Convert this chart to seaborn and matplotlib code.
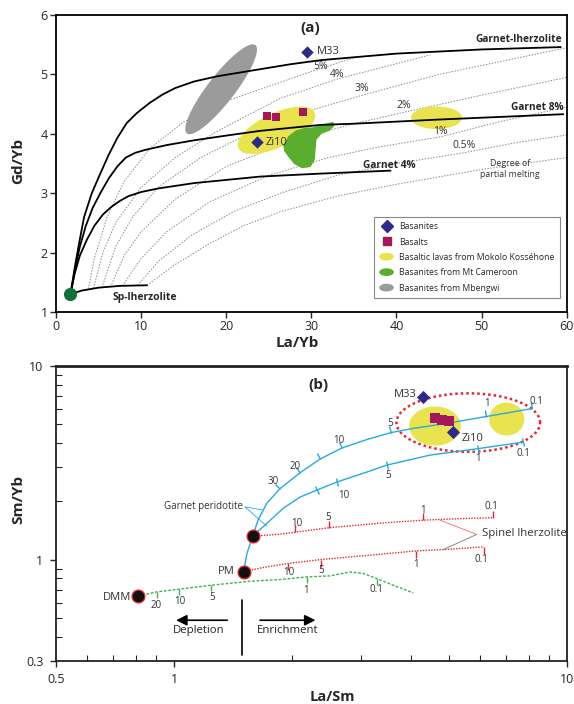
import numpy as np
import pandas as pd
import seaborn as sns
import matplotlib.pyplot as plt
import matplotlib.patches as mpatches
from matplotlib.lines import Line2D
from matplotlib.legend_handler import HandlerPatch
from matplotlib.markers import MarkerStyle
from matplotlib.transforms import Affine2D
from matplotlib.ticker import FixedLocator, NullFormatter

# ---------------- panel (a) data : La/Yb vs Gd/Yb ----------------
# melting curves (solid black)
gl_x = [1.7, 2.2, 2.7, 3.3, 4.2, 5.2, 6.2, 7.2, 8.3, 9.5, 11, 12.5, 14, 16.2, 19, 22.4, 27.5, 31.1, 40, 50, 59.3]
gl_y = [1.3, 1.75, 2.15, 2.6, 3.0, 3.33, 3.65, 3.93, 4.18, 4.35, 4.52, 4.66, 4.77, 4.88, 4.97, 5.05, 5.17, 5.24, 5.35, 5.42, 5.46]
g8_x = [1.7, 2.2, 2.8, 3.5, 4.3, 5.2, 6.2, 7.2, 8.2, 9.3, 10.5, 13, 16.2, 20, 24, 31.1, 35, 45, 59.6]
g8_y = [1.3, 1.7, 2.1, 2.45, 2.75, 3.0, 3.25, 3.45, 3.6, 3.68, 3.73, 3.81, 3.89, 3.97, 4.05, 4.15, 4.17, 4.24, 4.33]
g4_x = [1.7, 2.2, 2.8, 3.6, 4.5, 5.5, 6.5, 7.5, 8.5, 10, 12, 16.2, 24, 31.1, 39.3]
g4_y = [1.3, 1.65, 1.95, 2.21, 2.45, 2.64, 2.77, 2.87, 2.95, 3.02, 3.08, 3.17, 3.28, 3.33, 3.38]
sp_x = [1.7, 3, 5, 7.5, 10.7]
sp_y = [1.3, 1.36, 1.41, 1.44, 1.45]
source_a = (1.7, 1.3)

# degree of partial melting (grey dotted)
melt_curves = {
    '5%':   ([3.8, 4.5, 6, 8, 11, 15, 20, 25, 30, 35.2],
             [1.39, 1.9, 2.6, 3.2, 3.75, 4.2, 4.55, 4.8, 5.05, 5.29]),
    '4%':   ([4.4, 5.5, 7, 10, 14, 19, 26.4, 33, 44],
             [1.40, 2.0, 2.5, 3.1, 3.6, 4.05, 4.6, 4.92, 5.33]),
    '3%':   ([5.4, 7, 9, 12, 17, 24, 30, 36, 45, 60],
             [1.41, 2.1, 2.6, 3.1, 3.6, 4.1, 4.4, 4.65, 5.0, 5.45]),
    '2%':   ([6.4, 8, 10, 14, 20, 28, 35, 40.8, 50, 60],
             [1.42, 1.95, 2.35, 2.9, 3.45, 3.9, 4.17, 4.36, 4.65, 4.95]),
    '1%':   ([7.8, 10, 13, 18, 25, 32, 38, 45.2, 52, 60],
             [1.44, 1.9, 2.35, 2.85, 3.3, 3.6, 3.78, 3.95, 4.2, 4.45]),
    '0.5%': ([9.6, 12, 16, 21, 26.4, 33, 40, 47.9, 54, 60],
             [1.45, 1.85, 2.3, 2.7, 3.0, 3.3, 3.5, 3.68, 3.85, 3.98]),
    'low':  ([10.7, 14, 18, 22, 26.4, 33, 40, 50, 60],
             [1.45, 1.8, 2.15, 2.45, 2.69, 2.95, 3.15, 3.4, 3.6]),
}
melt_labels = ['5%', '4%', '3%', '2%', '1%', '0.5%']
melt_label_x = [31.06, 33.0, 35.96, 40.86, 45.18, 47.92]
melt_label_y = [5.125, 4.99, 4.77, 4.48, 4.035, 3.795]

# samples
basanite_a = pd.DataFrame({'x': [29.5, 23.6], 'y': [5.38, 3.87], 'name': ['M33', 'Zi10']})
basalt_a = pd.DataFrame({'x': [24.8, 25.9, 29.0], 'y': [4.30, 4.28, 4.36]})

# fields: centre, major half axis vector, minor half axis vector
mbengwi = dict(c=(19.4, 4.75), a=(4.02, 0.744), b=(1.26, -0.139))
mokolo1 = dict(c=(25.9, 4.06), a=(4.47, 0.303), b=(0.86, -0.259))
mokolo2 = dict(c=(44.7, 4.27), a=(3.0, 0.0), b=(0.0, 0.19))
cameroon_x = [26.7, 27.3, 28.2, 29.3, 30.2, 31.1, 31.9, 32.6, 32.7, 32.1, 31.2, 30.6,
              30.5, 30.4, 29.9, 28.9, 28.0, 27.3, 26.8]
cameroon_y = [3.81, 3.96, 4.06, 4.10, 4.11, 4.15, 4.18, 4.20, 4.13, 4.05, 4.00, 3.90,
              3.73, 3.56, 3.44, 3.42, 3.49, 3.61, 3.71]

# ---------------- panel (b) data : La/Sm vs Sm/Yb ----------------
dmm = (0.807, 0.648)
pm = (1.503, 0.869)
gp = (1.585, 1.323)

blue_up_x = [1.503, 1.533, 1.585, 1.635, 1.721, 1.860, 2.092, 2.352, 2.672, 3.094, 3.568, 4.067, 4.947, 6.229, 8.173]
blue_up_y = [0.869, 1.080, 1.323, 1.600, 1.951, 2.328, 2.810, 3.306, 3.770, 4.171, 4.532, 4.764, 5.056, 5.483, 6.031]
blue_up_tx = [1.860, 2.092, 2.352, 2.672, 3.568, 6.229, 8.173]
blue_up_ty = [2.328, 2.810, 3.306, 3.770, 4.532, 5.483, 6.031]
blue_up_lab = ['30', '20', '10', '5', '1', '0.1']
blue_up_lx = [1.789, 2.031, 2.619, 3.546, 6.255, 8.386]
blue_up_ly = [2.523, 3.042, 4.146, 5.056, 6.415, 6.594]

blue_lo_x = [1.585, 1.721, 1.897, 2.092, 2.307, 2.594, 3.094, 3.478, 4.485, 5.954, 7.751]
blue_lo_y = [1.323, 1.538, 1.845, 2.104, 2.287, 2.515, 2.833, 3.078, 3.467, 3.747, 4.047]
blue_lo_tx = [2.307, 2.594, 3.478, 5.954, 7.751]
blue_lo_ty = [2.287, 2.515, 3.078, 3.747, 4.047]
blue_lo_lab = ['10', '5', '1', '0.1']
blue_lo_lx = [2.697, 3.511, 5.954, 7.751]
blue_lo_ly = [2.154, 2.734, 3.334, 3.539]

red_up_x = [1.585, 1.860, 2.031, 2.484, 3.344, 4.312, 5.348, 6.501]
red_up_y = [1.323, 1.355, 1.387, 1.463, 1.544, 1.600, 1.629, 1.648]
red_up_tx = [2.031, 2.484, 4.312, 6.501]
red_up_ty = [1.387, 1.463, 1.600, 1.648]
red_up_lab = ['10', '5', '1', '0.1']
red_up_lx = [2.051, 2.465, 4.305, 6.440]
red_up_ly = [1.544, 1.659, 1.802, 1.875]

red_lo_x = [1.503, 1.703, 1.953, 2.362, 3.154, 4.131, 5.043, 6.156]
red_lo_y = [0.869, 0.915, 0.956, 1.002, 1.055, 1.110, 1.133, 1.165]
red_lo_tx = [1.953, 2.362, 4.131, 6.156]
red_lo_ty = [0.956, 1.002, 1.110, 1.165]
red_lo_lab = ['10', '5', '1', '0.1']
red_lo_lx = [1.953, 2.362, 4.131, 6.073]
red_lo_ly = [0.855, 0.882, 0.948, 1.0]

dmm_x = [0.807, 0.902, 1.028, 1.239, 1.560, 1.860, 2.176, 2.494, 2.805, 3.033, 3.281, 3.616, 4.067]
dmm_y = [0.648, 0.682, 0.704, 0.738, 0.774, 0.790, 0.815, 0.825, 0.865, 0.849, 0.799, 0.738, 0.674]
dmm_tx = [0.902, 1.028, 1.239, 2.176, 3.281]
dmm_ty = [0.682, 0.704, 0.738, 0.815, 0.799]
dmm_lab = ['20', '10', '5', '1', '0.1']
dmm_lx = [0.902, 1.035, 1.246, 2.167, 3.281]
dmm_ly = [0.582, 0.612, 0.638, 0.696, 0.704]

basanite_b = pd.DataFrame({'x': [4.312, 5.141], 'y': [6.94, 4.544], 'name': ['M33', 'Zi10']})
basalt_b = pd.DataFrame({'x': [4.618, 4.803, 5.013], 'y': [5.366, 5.260, 5.216]})
# fields in log space: centre, half width / half height in decades
mokolo_b1 = dict(c=(4.618, 4.897), w=0.066, h=0.101)
mokolo_b2 = dict(c=(7.034, 5.322), w=0.045, h=0.085)
enclose_b = dict(c=(5.614, 5.105), w=0.183, h=0.151)

NAVY = '#2d2a87'
CRIMSON = '#a4175b'
YELLOW = '#e9e34f'
GREEN = '#5aad2f'
GRAY = '#9b9b9b'
BLUE = '#29a9e1'
RED = '#e3262f'
DGREEN = '#3db24b'

# tick angles (degrees, on screen) of the blue curves at their tick marks
blue_up_ang = [42, 36, 30, 23, 14, 10, 10]
blue_lo_ang = [22, 20, 14, 8, 8]

sns.set_style('ticks')
plt.rcParams['font.family'] = ['Open Sans', 'DejaVu Sans']

fig = plt.figure(figsize=(5.74, 7.04), dpi=100)
ax = fig.add_axes([0.0976, 0.5568, 0.8897, 0.4219])
bx = fig.add_axes([0.0976, 0.0611, 0.8897, 0.4190])

t = np.linspace(0, 2 * np.pi, 120)


def line(axis, xs, ys, **kw):
    sns.lineplot(x=xs, y=ys, sort=False, estimator=None, ax=axis, legend=False, **kw)


def ell(e):
    return (e['c'][0] + e['a'][0] * np.cos(t) + e['b'][0] * np.sin(t),
            e['c'][1] + e['a'][1] * np.cos(t) + e['b'][1] * np.sin(t))


def log_ell(e):
    return (10 ** (np.log10(e['c'][0]) + e['w'] * np.cos(t)),
            10 ** (np.log10(e['c'][1]) + e['h'] * np.sin(t)))


# ===== panel (a) =====
for k, (mx, my) in melt_curves.items():
    line(ax, mx, my, color='#8a8a8a', lw=0.7, linestyle=(0, (1.5, 1.5)), zorder=1)

ax.fill(*ell(mbengwi), color=GRAY, lw=0, zorder=2)
ax.fill(*ell(mokolo1), color=YELLOW, lw=0, zorder=2)
ax.fill(*ell(mokolo2), color=YELLOW, lw=0, zorder=2)
ax.fill(cameroon_x, cameroon_y, color=GREEN, lw=0, zorder=2)

for xs, ys in [(gl_x, gl_y), (g8_x, g8_y), (g4_x, g4_y), (sp_x, sp_y)]:
    line(ax, xs, ys, color='k', lw=1.3, zorder=3)

sns.scatterplot(x=[source_a[0]], y=[source_a[1]], ax=ax, color='#12703a', s=90, linewidth=0, zorder=5)
sns.scatterplot(data=basanite_a, x='x', y='y', ax=ax, marker='D', color=NAVY, s=40, linewidth=0, zorder=5)
sns.scatterplot(data=basalt_a, x='x', y='y', ax=ax, marker='s', color=CRIMSON, s=40, linewidth=0, zorder=5)
ax.text(30.6, 5.38, 'M33', fontsize=8, va='center', color='#333')
ax.text(24.6, 3.86, 'Zi10', fontsize=8, va='center', color='#333', zorder=6)

for lab, lx, ly in zip(melt_labels, melt_label_x, melt_label_y):
    ax.text(lx, ly, lab, fontsize=7.5, ha='center', va='center', color='#333')

ax.text(29.9, 5.78, '(a)', fontsize=11, fontweight='bold', ha='center', va='center')
ax.text(59.5, 5.58, 'Garnet-lherzolite', fontsize=7.3, fontweight='bold', ha='right', va='center')
ax.text(59.6, 4.44, 'Garnet 8%', fontsize=7.3, fontweight='bold', ha='right', va='center')
ax.text(36.1, 3.46, 'Garnet 4%', fontsize=7.3, fontweight='bold', ha='left', va='center')
ax.text(6.7, 1.25, 'Sp-lherzolite', fontsize=7.5, fontweight='bold', ha='left', va='center')
ax.text(53.3, 3.41, 'Degree of\npartial melting', fontsize=6.3, ha='center', va='center',
        color='#333', linespacing=1.35)


class HandlerEllipse(HandlerPatch):
    def create_artists(self, legend, orig_handle, xdescent, ydescent, width, height, fontsize, trans):
        center = 0.5 * width - 0.5 * xdescent, 0.5 * height - 0.5 * ydescent
        p = mpatches.Ellipse(xy=center, width=width + xdescent, height=height + ydescent)
        self.update_prop(p, orig_handle, legend)
        p.set_transform(trans)
        return [p]


handles = [Line2D([], [], marker='D', ls='none', color=NAVY, ms=6),
           Line2D([], [], marker='s', ls='none', color=CRIMSON, ms=6),
           mpatches.Ellipse((0, 0), 1, 1, fc=YELLOW, ec='none'),
           mpatches.Ellipse((0, 0), 1, 1, fc=GREEN, ec='none'),
           mpatches.Ellipse((0, 0), 1, 1, fc=GRAY, ec='none')]
labels = ['Basanites', 'Basalts', 'Basaltic lavas from Mokolo Kosséhone',
          'Basanites from Mt Cameroon', 'Basanites from Mbengwi']
leg = ax.legend(handles, labels, handler_map={mpatches.Ellipse: HandlerEllipse()},
                loc='lower right', bbox_to_anchor=(0.986, 0.047), borderaxespad=0,
                fontsize=6.2, frameon=True, fancybox=False, edgecolor='#888', framealpha=1,
                borderpad=0.6, labelspacing=0.75, handlelength=1.7, handleheight=0.9,
                handletextpad=0.6)
leg.get_frame().set_linewidth(0.8)

ax.set_xlim(0, 60)
ax.set_ylim(1, 6)
ax.set_xticks([0, 10, 20, 30, 40, 50, 60])
ax.set_yticks([1, 2, 3, 4, 5, 6])
ax.set_xlabel('La/Yb', fontsize=11, fontweight='bold')
ax.set_ylabel('Gd/Yb', fontsize=11, fontweight='bold')
ax.xaxis.set_label_coords(0.4725, -0.082)
ax.yaxis.set_label_coords(-0.06, 0.51)
ax.tick_params(axis='both', labelsize=9, direction='out', length=4, width=1, pad=2)
for s in ax.spines.values():
    s.set_linewidth(1.3)
    s.set_color('k')

# ===== panel (b) =====
bx.set_xscale('log')
bx.set_yscale('log')

bx.fill(*log_ell(mokolo_b1), color=YELLOW, lw=0, zorder=1)
bx.fill(*log_ell(mokolo_b2), color=YELLOW, lw=0, zorder=1)
ex, ey = log_ell(enclose_b)
bx.plot(ex, ey, color=RED, lw=1.8, linestyle=(0, (1, 1.2)), zorder=2)

line(bx, blue_up_x, blue_up_y, color=BLUE, lw=1.0, zorder=3)
line(bx, blue_lo_x, blue_lo_y, color=BLUE, lw=1.0, zorder=3)
line(bx, red_up_x, red_up_y, color=RED, lw=1.0, linestyle=(0, (1, 1)), zorder=3)
line(bx, red_lo_x, red_lo_y, color=RED, lw=1.0, linestyle=(0, (1, 1)), zorder=3)
line(bx, dmm_x, dmm_y, color=DGREEN, lw=1.0, linestyle=(0, (2, 1.2)), zorder=3)

# tick marks along the model curves
for x, y, a in zip(blue_up_tx, blue_up_ty, blue_up_ang):
    bx.plot([x], [y], ls='none', marker=MarkerStyle(2, transform=Affine2D().rotate_deg(a)),
            ms=5, mew=1, color=BLUE, zorder=3)
for x, y, a in zip(blue_lo_tx, blue_lo_ty, blue_lo_ang):
    bx.plot([x], [y], ls='none', marker=MarkerStyle('|', transform=Affine2D().rotate_deg(a)),
            ms=6, mew=1, color=BLUE, zorder=3)
bx.plot(red_up_tx, red_up_ty, ls='none', marker=2, ms=5, mew=1, color=RED, zorder=3)
bx.plot(red_lo_tx, red_lo_ty, ls='none', marker=3, ms=5, mew=1, color=RED, zorder=3)
bx.plot(dmm_tx, dmm_ty, ls='none', marker=3, ms=4, mew=1, color=DGREEN, zorder=3)
for labs, lxs, lys in [(blue_up_lab, blue_up_lx, blue_up_ly), (blue_lo_lab, blue_lo_lx, blue_lo_ly),
                       (red_up_lab, red_up_lx, red_up_ly), (red_lo_lab, red_lo_lx, red_lo_ly),
                       (dmm_lab, dmm_lx, dmm_ly)]:
    for lab, lx, ly in zip(labs, lxs, lys):
        bx.text(lx, ly, lab, fontsize=7, ha='center', va='center', color='#333')

sns.scatterplot(x=[dmm[0], pm[0], gp[0]], y=[dmm[1], pm[1], gp[1]], ax=bx, color='#111',
                edgecolor=RED, linewidth=0.9, s=85, zorder=5)
sns.scatterplot(data=basalt_b, x='x', y='y', ax=bx, marker='s', color=CRIMSON, s=45, linewidth=0, zorder=5)
sns.scatterplot(data=basanite_b, x='x', y='y', ax=bx, marker='D', color=NAVY, s=45, linewidth=0, zorder=5)

bx.text(4.148, 7.165, 'M33', fontsize=8, ha='right', va='center', color='#333')
bx.text(5.401, 4.246, 'Zi10', fontsize=8, ha='left', va='center', color='#333')
bx.text(0.776, 0.640, 'DMM', fontsize=8, ha='right', va='center', color='#333')
bx.text(1.428, 0.869, 'PM', fontsize=8, ha='right', va='center', color='#333')
bx.text(2.325, 7.977, '(b)', fontsize=11, fontweight='bold', ha='center', va='center')

# garnet peridotite label with leaders
bx.text(1.495, 1.875, 'Garnet peridotite', fontsize=7, ha='right', va='center', color='#333')
bx.plot([1.515, 1.687], [1.875, 1.802], color=BLUE, lw=0.6)
bx.plot([1.515, 1.721], [1.875, 1.490], color=BLUE, lw=0.6)

# spinel lherzolite label with leaders
bx.text(6.073, 1.371, 'Spinel lherzolite', fontsize=8.2, ha='left', va='center', color='#333')
bx.plot([4.756, 5.898], [1.600, 1.350], color='#f08080', lw=0.7)
bx.plot([4.849, 5.898], [1.129, 1.350], color='#888', lw=0.7)

# depletion / enrichment
bx.plot([1.491, 1.491], [0.321, 0.618], color='k', lw=1.2)
bx.annotate('', xy=(0.995, 0.487), xytext=(1.388, 0.487),
            arrowprops=dict(arrowstyle='-|>', color='k', lw=1.2, mutation_scale=16))
bx.annotate('', xy=(2.328, 0.487), xytext=(1.628, 0.487),
            arrowprops=dict(arrowstyle='-|>', color='k', lw=1.2, mutation_scale=16))
bx.text(1.157, 0.4285, 'Depletion', fontsize=8.2, ha='center', va='center', color='#222')
bx.text(1.946, 0.4285, 'Enrichment', fontsize=8.2, ha='center', va='center', color='#222')

bx.set_xlim(0.5, 10)
bx.set_ylim(0.3, 10)
bx.set_xticks([0.5, 1, 10])
bx.set_xticklabels(['0.5', '1', '10'])
bx.set_yticks([0.3, 1, 10])
bx.set_yticklabels(['0.3', '1', '10'])
bx.xaxis.set_minor_locator(FixedLocator([0.6, 0.7, 0.8, 0.9, 2, 3, 4, 5, 6, 7, 8, 9]))
bx.yaxis.set_minor_locator(FixedLocator([0.4, 0.5, 0.6, 0.7, 0.8, 0.9, 2, 3, 4, 5, 6, 7, 8, 9]))
bx.xaxis.set_minor_formatter(NullFormatter())
bx.yaxis.set_minor_formatter(NullFormatter())
bx.tick_params(which='major', labelsize=9, direction='out', length=4, width=1, pad=5)
bx.tick_params(which='minor', direction='in', length=4, width=0.8)
bx.set_xlabel('La/Sm', fontsize=10.5, fontweight='bold')
bx.set_ylabel('Sm/Yb', fontsize=11, fontweight='bold')
bx.xaxis.set_label_coords(0.542, -0.098)
bx.yaxis.set_label_coords(-0.06, 0.546)
for s in bx.spines.values():
    s.set_linewidth(1.3)
    s.set_color('#222')
bx.spines['top'].set_linewidth(2)

fig.savefig('out.png', dpi=100)
